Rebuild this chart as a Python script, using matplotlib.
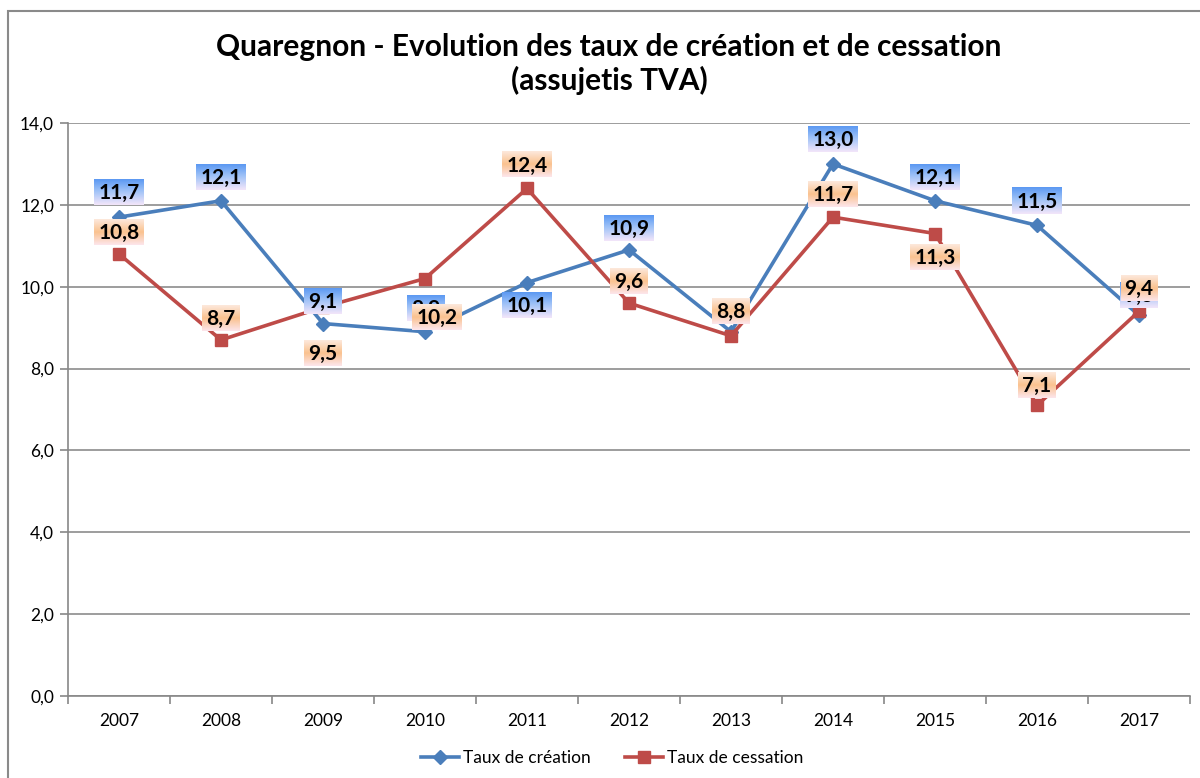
import matplotlib
matplotlib.use("Agg")
import matplotlib.pyplot as plt
import numpy as np
from matplotlib.patches import Rectangle

plt.rcParams['font.family'] = ['Lato', 'DejaVu Sans']

years = ['2007', '2008', '2009', '2010', '2011', '2012', '2013', '2014', '2015', '2016', '2017']
creation = [11.7, 12.1, 9.1, 8.9, 10.1, 10.9, 8.9, 13.0, 12.1, 11.5, 9.3]
cessation = [10.8, 8.7, 9.5, 10.2, 12.4, 9.6, 8.8, 11.7, 11.3, 7.1, 9.4]
yticks = [0, 2, 4, 6, 8, 10, 12, 14]

title = "Quaregnon - Evolution des taux de création et de cessation\n(assujetis TVA)"
series_names = ["Taux de création", "Taux de cessation"]

# label offsets in pixels (dx, dy)
off_creation = [(0, 25), (0, 24), (0, 23), (1, 24), (0, -22), (0, 22), (0, 21), (0, 25), (0, 24), (0, 24), (0, 20)]
off_cessation = [(0, 22), (0, 22), (0, -46), (12, -38), (0, 24), (0, 22), (0, 25), (0, 23), (0, -23), (0, 20), (0, 23)]

BLUE = '#4A7EBB'
RED = '#BE4B48'

W, H = 1200, 778
fig = plt.figure(figsize=(W / 100, H / 100), dpi=100)
ax = fig.add_axes([68 / W, (H - 696) / H, 1122 / W, 573 / H])

x = np.arange(len(years))
ax.plot(x, creation, color=BLUE, lw=2.6, marker='D', ms=7, zorder=3, label=series_names[0])
ax.plot(x, cessation, color=RED, lw=2.6, marker='s', ms=8, zorder=3, label=series_names[1])

ax.set_xlim(-0.5, len(years) - 0.5)
ax.set_ylim(0, 14)
ax.set_autoscale_on(False)
ax.set_yticks(yticks)
ax.set_yticklabels([f"{v:.1f}".replace('.', ',') for v in yticks], fontsize=12.5)
ax.set_xticks(x)
ax.set_xticklabels(years, fontsize=12.5)
ax.set_xticks(np.arange(-0.5, len(years), 1), minor=True)
ax.tick_params(axis='x', which='major', length=0, pad=12)
ax.tick_params(axis='x', which='minor', length=6, color='#888888', width=1.2)
ax.tick_params(axis='y', length=6, color='#888888', width=1.2, pad=4)
ax.yaxis.grid(True, color='#8C8C8C', lw=1.2)
ax.set_axisbelow(True)
for s in ['top', 'right']:
    ax.spines[s].set_visible(False)
for s in ['left', 'bottom']:
    ax.spines[s].set_color('#888888')
    ax.spines[s].set_linewidth(1.2)

fig.text(609 / W, 1 - 64 / H, title, ha='center', va='center', fontsize=21.5,
         fontweight='bold', linespacing=1.2)

# figure border
fig.add_artist(Rectangle((7.5 / W, -0.1), 1.2, (H - 11.5) / H + 0.1, transform=fig.transFigure,
                         fill=False, edgecolor='#8A8A8A', lw=1.5, zorder=0))

leg = fig.legend(loc='center', bbox_to_anchor=(612 / W, 1 - 758 / H), ncol=2, frameon=False,
                 fontsize=12.5, handlelength=2.2, columnspacing=2.0, handletextpad=0.2)


def gradient(stops, h=40):
    t = np.linspace(0, 1, h)
    pos = [s[0] for s in stops]
    arr = np.zeros((h, 1, 3))
    for c in range(3):
        arr[:, 0, c] = np.interp(t, pos, [s[1][c] for s in stops])
    return arr


blue_grad = gradient([(0, (0.36, 0.60, 0.95)), (0.45, (0.62, 0.76, 0.97)), (1.0, (0.95, 0.90, 0.98))])
orange_grad = gradient([(0, (0.99, 0.91, 0.86)), (0.5, (0.98, 0.76, 0.56)), (1.0, (0.99, 0.90, 0.92))])

fig.canvas.draw()
renderer = fig.canvas.get_renderer()
inv = ax.transData.inverted()

z = 5
for vals, offs, grad in [(creation, off_creation, blue_grad), (cessation, off_cessation, orange_grad)]:
    for i, (v, (dx, dy)) in enumerate(zip(vals, offs)):
        px, py = ax.transData.transform((i, v))
        cx, cy = px + dx, py + dy
        label = f"{v:.1f}".replace('.', ',')
        t = ax.text(0, 0, label, fontsize=15, fontweight='bold', ha='center', va='center',
                    zorder=z + 1)
        t.set_transform(matplotlib.transforms.IdentityTransform())
        t.set_position((cx, cy - 1))
        bb = t.get_window_extent(renderer)
        w = bb.width + 8
        h = 26
        (x0, y0) = inv.transform((cx - w / 2, cy - h / 2))
        (x1, y1) = inv.transform((cx + w / 2, cy + h / 2))
        ax.imshow(grad, extent=(x0, x1, y0, y1), aspect='auto', zorder=z, interpolation='bilinear',
                  origin='upper')
        z += 2

ax.set_xlim(-0.5, len(years) - 0.5)
ax.set_ylim(0, 14)
fig.savefig('out.png', dpi=100)
